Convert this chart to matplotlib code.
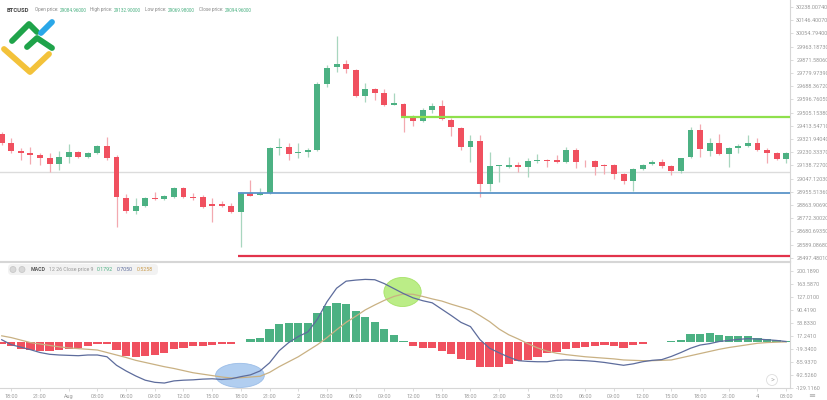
import matplotlib.pyplot as plt
from matplotlib.patches import Ellipse, FancyBboxPatch
import numpy as np

plt.rcParams['font.family'] = ['Roboto', 'DejaVu Sans']

W, H = 828, 400

# hourly candles, Jul 31 17:00 -> Aug 4 03:00
opens = [29357, 29294, 29239, 29225, 29211, 29190, 29148, 29197, 29232, 29197,
         29225, 29273, 29197, 28912, 28822, 28857, 28912, 28905, 28919, 28982,
         28919, 28919, 28871, 28871, 28857, 28815, 28947, 28933, 28947, 29260,
         29266, 29225, 29232, 29246, 29704, 29822, 29843, 29801, 29620, 29669,
         29641, 29558, 29565, 29475, 29447, 29523, 29551, 29454, 29398, 29266,
         29308, 29010, 29135, 29128, 29142, 29128, 29169, 29176, 29176, 29162,
         29246, 29169, 29169, 29142, 29142, 29079, 29031, 29114, 29149, 29162,
         29135, 29100, 29197, 29384, 29239, 29294, 29218, 29260, 29273, 29294,
         29246, 29225, 29183]
highs = [29370, 29329, 29260, 29266, 29225, 29225, 29239, 29287, 29239, 29232,
         29280, 29336, 29211, 28940, 28912, 28919, 28954, 28933, 28989, 28989,
         28947, 28933, 28912, 28891, 28878, 28954, 29037, 28982, 29266, 29329,
         29294, 29294, 29260, 29718, 29836, 30037, 29870, 29808, 29711, 29676,
         29669, 29641, 29572, 29488, 29537, 29572, 29593, 29468, 29405, 29350,
         29350, 29232, 29142, 29197, 29162, 29190, 29218, 29183, 29211, 29266,
         29260, 29176, 29176, 29149, 29149, 29086, 29121, 29149, 29176, 29183,
         29142, 29190, 29405, 29426, 29329, 29357, 29266, 29287, 29350, 29329,
         29260, 29232, 29232]
lows = [29280, 29225, 29176, 29148, 29142, 29093, 29107, 29155, 29190, 29190,
        29218, 29176, 28711, 28808, 28801, 28850, 28899, 28899, 28912, 28912,
        28899, 28843, 28746, 28850, 28808, 28572, 28926, 28933, 28940, 29211,
        29176, 29190, 29197, 29239, 29683, 29787, 29780, 29614, 29579, 29593,
        29551, 29558, 29370, 29412, 29440, 29502, 29454, 29343, 29246, 29162,
        28919, 28961, 29024, 29121, 29093, 29058, 29155, 29128, 29155, 29155,
        29121, 29128, 29072, 29079, 29044, 29010, 28961, 29107, 29142, 29121,
        29072, 29086, 29190, 29197, 29204, 29211, 29128, 29225, 29266, 29239,
        29155, 29176, 29155]
closes = [29294, 29239, 29225, 29211, 29190, 29148, 29197, 29232, 29197, 29225,
          29273, 29190, 28919, 28822, 28857, 28912, 28905, 28926, 28982, 28919,
          28915, 28850, 28857, 28857, 28815, 28947, 28926, 28947, 29260, 29266,
          29218, 29232, 29246, 29704, 29815, 29843, 29808, 29620, 29669, 29641,
          29558, 29572, 29482, 29447, 29523, 29551, 29461, 29405, 29266, 29308,
          29010, 29135, 29138, 29142, 29128, 29169, 29176, 29169, 29162, 29246,
          29162, 29166, 29128, 29135, 29079, 29031, 29114, 29142, 29162, 29135,
          29100, 29190, 29384, 29253, 29294, 29218, 29260, 29273, 29294, 29246,
          29225, 29183, 29225]

macd_hist = [-6.6, -13, -19, -22.5, -26, -25, -22.5, -19, -17, -13,
             -5.6, -5.6, -22.5, -39, -44, -39, -36.6, -30, -19, -16,
             -13, -11, -9.4, -6.6, -5.6, 1, 7.5, 12, 37.5, 51.6,
             54.4, 54.4, 54.4, 82.6, 101, 110.7, 106, 87, 71, 57,
             37.5, 20, 2.8, -11.3, -16, -17.8, -25, -33, -47, -51.6,
             -72, -72, -70, -61, -54.4, -50, -42, -31, -28, -19,
             -16, -14, -12, -10, -12, -16, -10, -4.7, -1, 1,
             2.8, 6.6, 21.6, 21.6, 25, 19, 17, 16, 17.8, 12,
             8.4, 4.7, 2.8]
macd_line = [6, -8, -15, -22, -30, -35, -37, -38, -39, -37,
             -37, -42, -66, -82, -96, -108, -114, -116, -110, -108,
             -107, -105, -104, -106, -104, -98, -93, -82, -59, -25,
             -2, 15, 28, 64, 113, 151, 171, 174, 176, 175,
             164, 150, 136, 124, 116, 110, 92, 74, 55, 43,
             6, -18, -31, -43, -53, -55, -56, -56, -52, -51,
             -52, -53, -55, -58, -62, -66, -62, -56, -52, -50,
             -41, -30, -18, -9, -5, 1, 4, 7, 9, 8,
             6, 4, 1]
signal_line = [17, 12, 5, -2, -6, -10, -14, -17, -19, -21,
               -23, -30, -37, -44, -52, -58, -64, -70, -75, -81,
               -87, -91, -95, -99, -102, -101, -99, -97, -86, -70,
               -56, -42, -25, -8, 12, 34, 55, 72, 90, 104,
               117, 128, 135, 134, 128, 121, 115, 106, 98, 90,
               74, 57, 36, 20, 8, -5, -17, -26, -32, -36,
               -39, -42, -44, -46, -48, -51, -52, -53, -53, -52,
               -51, -45, -39, -33, -27, -21, -16, -12, -8, -4,
               -2, -1, 0]

# horizontal levels: (price, first candle)
level_green = (29478, 42)
level_blue = (28947, 25)
level_red = (28510, 25)
level_last = 29093
cross_idx = [25, 42]

price_ticks = [30238.00740, 30146.40070, 30054.79400, 29963.18730, 29871.58060,
               29779.97390, 29688.36720, 29596.76050, 29505.15380, 29413.54710,
               29321.94040, 29230.33370, 29138.72700, 29047.12030, 28955.51360,
               28863.90690, 28772.30020, 28680.69350, 28589.08680, 28497.48010]
macd_ticks = [200.1890, 163.5870, 127.0100, 90.4190, 53.8330,
              17.2410, -19.3400, -55.9370, -92.5260, -129.1160]
time_tick_idx = list(range(1, 83, 3))
time_labels = ['18:00', '21:00', 'Aug', '03:00', '06:00', '09:00', '12:00', '15:00',
               '18:00', '21:00', '2', '03:00', '06:00', '09:00', '12:00', '15:00',
               '18:00', '21:00', '3', '03:00', '06:00', '09:00', '12:00', '15:00',
               '18:00', '21:00', '4', '03:00']

GREEN = '#4cb183'
RED = '#f0505f'
AXC = '#d6d6d6'
TXT = '#9a9a9a'

fig = plt.figure(figsize=(W / 100, H / 100), dpi=100)
ax = fig.add_axes([0, 139 / H, 790 / W, 261 / H])
mx = fig.add_axes([0, 12 / H, 790 / W, 126 / H])

n = len(opens)
x = np.arange(n)
o = np.array(opens, float)
c = np.array(closes, float)
up = c >= o
body_col = [GREEN if u else RED for u in up]
wick_col = ['#a8d6bf' if u else '#f3a9b0' for u in up]
bottom = np.minimum(o, c)
height = np.maximum(np.abs(c - o), 5)

ax.axhline(level_last, color='#dcdcdc', lw=1, zorder=1)
ax.vlines(x, lows, highs, colors=wick_col, lw=0.9, zorder=2)
ax.bar(x, height, bottom=bottom, width=0.62, color=body_col, zorder=3)

for (lv, start), col, lw in [(level_green, '#8fe04c', 1.6),
                             (level_blue, '#5a94c8', 1.3),
                             (level_red, '#e2334b', 1.6)]:
    ax.hlines(lv, start - 0.3, n + 2, colors=col, lw=lw, zorder=4)

xlim = (-0.18, 82.4)
ax.set_xlim(*xlim)
ax.set_ylim(28475, 30287)
ax.yaxis.tick_right()
ax.set_yticks(price_ticks)
ax.set_yticklabels(['%.5f' % v for v in price_ticks])
ax.set_xticks([])
ax.tick_params(axis='y', length=2.5, width=0.6, color=AXC, labelsize=4,
               labelcolor=TXT, pad=2)
for s in ['left', 'top']:
    ax.spines[s].set_visible(False)
for s in ['right', 'bottom']:
    ax.spines[s].set_color(AXC)
    ax.spines[s].set_linewidth(0.8)

# MACD panel
h = np.array(macd_hist)
mx.bar(x, h, width=0.86, color=[GREEN if v >= 0 else RED for v in h], zorder=2)
for ci, col, ec, w_, h_ in [(cross_idx[0], '#a9c9ef', '#95b9e6', 5.1, 68),
                            (cross_idx[1], '#b4ec7a', '#a2e060', 3.9, 82)]:
    cy = (macd_line[ci] + signal_line[ci]) / 2
    mx.add_patch(Ellipse((ci - 0.1, cy + 5), w_, h_, facecolor=col, edgecolor=ec,
                         lw=0.6, alpha=0.9, zorder=3))
mx.plot(x, signal_line, color='#c9b183', lw=0.9, zorder=4)
mx.plot(x, macd_line, color='#5d6c9c', lw=0.9, zorder=5)
mx.set_xlim(*xlim)
mx.set_ylim(-130, 225)
mx.yaxis.tick_right()
mx.set_yticks(macd_ticks)
mx.set_yticklabels(['%.4f' % v for v in macd_ticks])
mx.set_xticks(time_tick_idx)
mx.set_xticklabels(time_labels)
mx.tick_params(axis='both', length=2.5, width=0.6, color=AXC, labelsize=4,
               labelcolor=TXT, pad=2)
mx.spines['left'].set_visible(False)
for s in ['right', 'bottom', 'top']:
    mx.spines[s].set_color(AXC)
    mx.spines[s].set_linewidth(0.8)

# overlay in pixel coordinates for header, logo and icons
ov = fig.add_axes([0, 0, 1, 1], facecolor='none')
ov.set_xlim(0, W)
ov.set_ylim(H, 0)
ov.axis('off')

ov.text(7, 10, 'BTCUSD', fontsize=4.2, fontweight='bold', color='#444444', va='center')
hdr = [(37, 'Open price:', 60, '29084.96000'), (93, 'High price:', 114, '29132.90000'),
       (147, 'Low price:', 168, '29069.98000'), (202, 'Close price:', 225, '29094.96000')]
for lx, lab, vx, val in hdr:
    ov.text(vx - 1.5, 10, lab, fontsize=3.3, color='#888888', va='center', ha='right')
    ov.text(vx, 10, val, fontsize=3.3, color=GREEN, va='center')

# logo
ov.plot([4, 30, 49], [49, 72, 54], color='#f3c23a', lw=4.2, solid_capstyle='round',
        solid_joinstyle='round')
ov.plot([12, 29, 37], [41, 24, 32], color='#1fa34a', lw=4.2, solid_capstyle='round',
        solid_joinstyle='round')
ov.plot([27, 37, 52], [47, 38, 48], color='#1fa34a', lw=4.2, solid_capstyle='round',
        solid_joinstyle='round')
ov.plot([41, 52], [33, 22], color='#2aa7e8', lw=4.2, solid_capstyle='round')

# MACD header
ov.add_patch(FancyBboxPatch((8, 264), 150, 11, boxstyle='round,pad=0,rounding_size=4',
                            facecolor='#f2f2f2', edgecolor='none'))
for cx in (13, 22):
    ov.add_patch(Ellipse((cx, 269.5), 6, 6, facecolor='#d8d8d8', edgecolor='#c4c4c4', lw=0.5))
ov.text(31, 269.5, 'MACD', fontsize=3.8, fontweight='bold', color='#555555', va='center')
ov.text(49, 269.5, '12 26 Close price 9', fontsize=3.8, color='#999999', va='center')
ov.text(97, 269.5, '0.1792', fontsize=3.8, color=GREEN, va='center')
ov.text(117, 269.5, '0.7050', fontsize=3.8, color='#5d6c9c', va='center')
ov.text(137, 269.5, '0.5258', fontsize=3.8, color='#c99a4a', va='center')

# navigation icons
ov.add_patch(Ellipse((772, 380), 11, 11, facecolor='white', edgecolor='#dddddd', lw=0.6))
ov.text(772, 380, '>', fontsize=5, color='#aaaaaa', ha='center', va='center')
ov.text(812, 396, '\u2261', fontsize=6, color='#aaaaaa', ha='center', va='center')

fig.savefig('out.png', dpi=100)
